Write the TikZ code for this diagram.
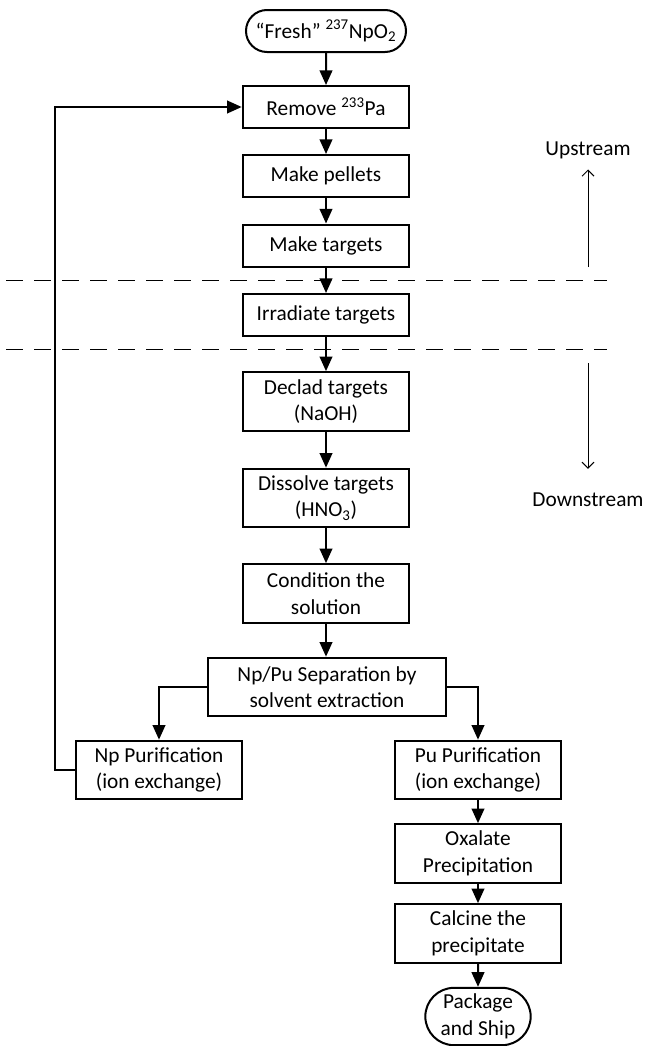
\documentclass[tikz,border=0pt]{standalone}
\usepackage{fontspec}
\setmainfont{Carlito}
\usepackage{tikz}
\usetikzlibrary{shapes.misc, arrows.meta}
\tikzset{
  % Box styles
  processbox/.style={rectangle, draw=black, line width=1.5pt, minimum width=125pt, minimum height=31.5pt, inner sep=2pt, font=\fontsize{16}{20}\selectfont, align=center},
  twolinebox/.style={processbox, minimum height=44pt},
  terminalbox/.style={rounded rectangle, draw=black, line width=1.5pt, minimum width=124pt, minimum height=31.5pt, inner sep=2pt, font=\fontsize{16}{20}\selectfont, align=center},
  zonelabel/.style={inner sep=0pt, font=\fontsize{16}{20}\selectfont},
  % Arrow styles
  arrow/.style={-{Triangle[length=11pt, width=9.5pt]}, line width=1.5pt},
  zonearrow/.style={-{Straight Barb[length=4.5pt, width=9pt]}, line width=0.75pt},
  zoneline/.style={line width=0.75pt, dash pattern=on 12.75pt off 8.25pt}
}
\begin{document}
\begin{tikzpicture}[x=0.75pt, y=-0.75pt]
  \useasboundingbox (0,0) rectangle (648,1046);

  % Stage boundaries
  \draw[zoneline] (6,280) -- (607,280);
  \draw[zoneline] (6,349) -- (607,349);

  % Main column
  \node[terminalbox] (fresh) at (326,31) {``Fresh'' \textsuperscript{237}NpO\textsubscript{2}};
  \node[processbox] (removepa) at (326,107) {Remove \textsuperscript{233}Pa};
  \node[processbox] (pellets) at (326,176) {Make pellets};
  \node[processbox] (targets) at (326,245.5) {Make targets};
  \node[processbox] (irradiate) at (326,315) {Irradiate targets};
  \node[twolinebox] (declad) at (326,401.5) {Declad targets\\(NaOH)};
  \node[twolinebox] (dissolve) at (326,498) {Dissolve targets\\(HNO\textsubscript{3})};
  \node[twolinebox] (condition) at (326,593.5) {Condition the\\solution};
  \node[twolinebox, minimum width=178.5pt] (separation) at (327,687) {Np/Pu Separation by\\solvent extraction};

  % Np and Pu branches
  \node[twolinebox] (nppur) at (159,770) {Np Purification\\(ion exchange)};
  \node[twolinebox] (pupur) at (478,770) {Pu Purification\\(ion exchange)};
  \node[twolinebox] (oxalate) at (478,853.5) {Oxalate\\Precipitation};
  \node[twolinebox] (calcine) at (478,933.5) {Calcine the\\precipitate};
  \node[terminalbox, minimum width=83pt, minimum height=43pt] (package) at (478,1016.5) {Package\\and Ship};

  % Flow arrows
  \draw[arrow] (fresh) -- (removepa);
  \draw[arrow] (removepa) -- (pellets);
  \draw[arrow] (pellets) -- (targets);
  \draw[arrow] (targets) -- (irradiate);
  \draw[arrow] (irradiate) -- (declad);
  \draw[arrow] (declad) -- (dissolve);
  \draw[arrow] (dissolve) -- (condition);
  \draw[arrow] (condition.south) -- (condition.south |- separation.north);
  \draw[arrow] (separation.west) -| (nppur.north);
  \draw[arrow] (separation.east) -| (pupur.north);
  \draw[arrow] (pupur) -- (oxalate);
  \draw[arrow] (oxalate) -- (calcine);
  \draw[arrow] (calcine) -- (package);

  % Recycle loop
  \draw[arrow] (nppur.west) -- ++(-20,0) |- (removepa.west);

  % Upstream / downstream labels
  \node[zonelabel] (upstream) at (588,150) {Upstream};
  \node[zonelabel] (downstream) at (588,500) {Downstream};
  \coordinate (upfoot) at (588,267);
  \coordinate (downtop) at (588,363);
  \draw[zonearrow, shorten >=8pt] (upfoot) -- (upstream.south);
  \draw[zonearrow, shorten >=18pt] (downtop) -- (downstream.north);
\end{tikzpicture}
\end{document}
